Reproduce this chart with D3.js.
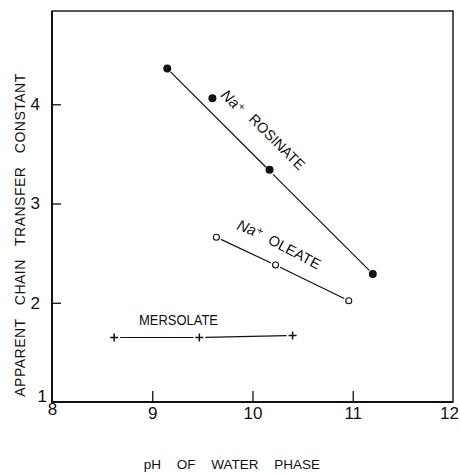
<!DOCTYPE html>
<html>
<head>
<meta charset="utf-8">
<script src="https://cdn.jsdelivr.net/npm/d3@7"></script>
<style>
  body { margin: 0; background: #fff; }
  svg text { font-family: "Liberation Sans", "DejaVu Sans", sans-serif; fill: #111; }
</style>
</head>
<body>
<div id="chart"></div>
<script>
var width = 460,
    height = 473;

// data
var rosinatePH = [9.15, 9.60, 10.17, 11.20];
var rosinateK  = [4.36, 4.06, 3.34, 2.29];
var oleatePH = [9.64, 10.23, 10.96];
var oleateK  = [2.66, 2.38, 2.02];
var mersolatePH = [8.62, 9.47, 10.40];
var mersolateK  = [1.65, 1.65, 1.67];
var xTicks = [8, 9, 10, 11, 12];
var yTicks = [1, 2, 3, 4];

var svg = d3.select('#chart').append('svg')
    .attr('width', width)
    .attr('height', height);

let scaleX = d3.scaleLinear().domain([8, 12]).range([52, 453]);
let scaleY = d3.scaleLinear().domain([1, 4.94]).range([402, 11]);

// frame
svg.append('rect')
    .attr('x', scaleX(8)).attr('y', scaleY(4.94))
    .attr('width', scaleX(12) - scaleX(8))
    .attr('height', scaleY(1) - scaleY(4.94))
    .attr('fill', 'none').attr('stroke', '#111').attr('stroke-width', 1.4);
// heavier left and bottom edges
svg.append('path')
    .attr('d', 'M' + scaleX(8) + ',' + scaleY(4.94) + 'V' + scaleY(1) + 'H' + scaleX(12))
    .attr('fill', 'none').attr('stroke', '#111').attr('stroke-width', 2);

// axes, ticks pointing inward
var axisB = d3.axisBottom(scaleX).tickValues(xTicks).tickSize(-11).tickPadding(14).tickFormat(d3.format('d'));
var axisL = d3.axisLeft(scaleY).tickValues(yTicks).tickSize(-9).tickPadding(12).tickFormat(d3.format('d'));

var gx = svg.append('g').attr('transform', 'translate(0,' + scaleY(1) + ')').call(axisB);
var gy = svg.append('g').attr('transform', 'translate(' + scaleX(8) + ',0)').call(axisL);
[gx, gy].forEach(g => {
    g.select('.domain').remove();
    g.selectAll('line').attr('stroke', '#111').attr('stroke-width', 1.3);
    g.selectAll('text').attr('font-size', 17).attr('font-family', '"Liberation Sans", sans-serif').attr('fill', '#111');
});
// end ticks sit on the frame, drop them
gx.selectAll('.tick line').filter(d => d == 8 || d == 12).remove();
gy.selectAll('.tick line').filter(d => d == 1).remove();
gx.selectAll('.tick text').attr('dy', '0.2em');
gx.selectAll('.tick').filter(d => d == 8).select('text').attr('dy', '-0.05em');
gx.selectAll('.tick').filter(d => d == 12).select('text').attr('dx', '-4');
gy.selectAll('.tick').filter(d => d == 1).select('text').attr('dx', '7').attr('dy', '-0.05em');

// a segment between two data points, trimmed so it stops short of markers
function seg(x0, y0, x1, y1, gap) {
    let ax = scaleX(x0), ay = scaleY(y0), bx = scaleX(x1), by = scaleY(y1);
    let len = Math.hypot(bx - ax, by - ay), ux = (bx - ax) / len, uy = (by - ay) / len;
    svg.append('line')
        .attr('x1', ax + ux * gap).attr('y1', ay + uy * gap)
        .attr('x2', bx - ux * gap).attr('y2', by - uy * gap)
        .attr('stroke', '#111').attr('stroke-width', 1.2);
}

// rosinate: straight line from first to last point, broken at the third
var rl = rosinateK.length - 1;
var t3 = (rosinatePH[2] - rosinatePH[0]) / (rosinatePH[rl] - rosinatePH[0]);
var yOn3 = rosinateK[0] + t3 * (rosinateK[rl] - rosinateK[0]);
seg(rosinatePH[0], rosinateK[0], rosinatePH[2], yOn3, 5);
seg(rosinatePH[2], yOn3, rosinatePH[rl], rosinateK[rl], 5);

for (let i = 0; i < oleatePH.length - 1; i++) seg(oleatePH[i], oleateK[i], oleatePH[i + 1], oleateK[i + 1], 5);
for (let i = 0; i < mersolatePH.length - 1; i++) seg(mersolatePH[i], mersolateK[i], mersolatePH[i + 1], mersolateK[i + 1], 6);

// markers
svg.selectAll('.rosDot').data(rosinatePH).enter().append('circle')
    .attr('class', 'rosDot')
    .attr('cx', d => scaleX(d))
    .attr('cy', (d, i) => scaleY(rosinateK[i]))
    .attr('r', 4).attr('fill', '#111');

svg.selectAll('.oleDot').data(oleatePH).enter().append('circle')
    .attr('class', 'oleDot')
    .attr('cx', d => scaleX(d))
    .attr('cy', (d, i) => scaleY(oleateK[i]))
    .attr('r', 3).attr('fill', '#fff').attr('stroke', '#111').attr('stroke-width', 1.1);

svg.selectAll('.merPlus').data(mersolatePH).enter().append('path')
    .attr('class', 'merPlus')
    .attr('transform', (d, i) => 'translate(' + scaleX(d) + ',' + scaleY(mersolateK[i]) + ')')
    .attr('d', 'M-4,0H4M0,-4V4')
    .attr('stroke', '#111').attr('stroke-width', 1.5);

// series labels
function label(text, x, y, angle, size, len) {
    let t = svg.append('text')
        .attr('transform', 'translate(' + x + ',' + y + ') rotate(' + angle + ')')
        .attr('font-size', size)
        .text(text);
    if (len) t.attr('textLength', len).attr('lengthAdjust', 'spacingAndGlyphs');
    return t;
}
label('Na⁺', 220, 96, 44, 15).attr('font-style', 'italic');
label('ROSINATE', 248, 120, 45, 14.5, 72);
label('Na⁺', 236, 229, 22, 15).attr('font-style', 'italic');
label('OLEATE', 267, 243, 28, 14.5, 57);
label('MERSOLATE', 139, 325, 0, 15.5, 79);

// axis titles
svg.append('text')
    .attr('transform', 'translate(25,235) rotate(-90)')
    .attr('text-anchor', 'middle')
    .attr('font-size', 14)
    .attr('letter-spacing', 0.5)
    .attr('word-spacing', 9)
    .text('APPARENT CHAIN TRANSFER CONSTANT');

svg.append('text')
    .attr('x', 232).attr('y', 469)
    .attr('text-anchor', 'middle')
    .attr('font-size', 13.5)
    .attr('word-spacing', 12)
    .text('pH OF WATER PHASE');
</script>
</body>
</html>
